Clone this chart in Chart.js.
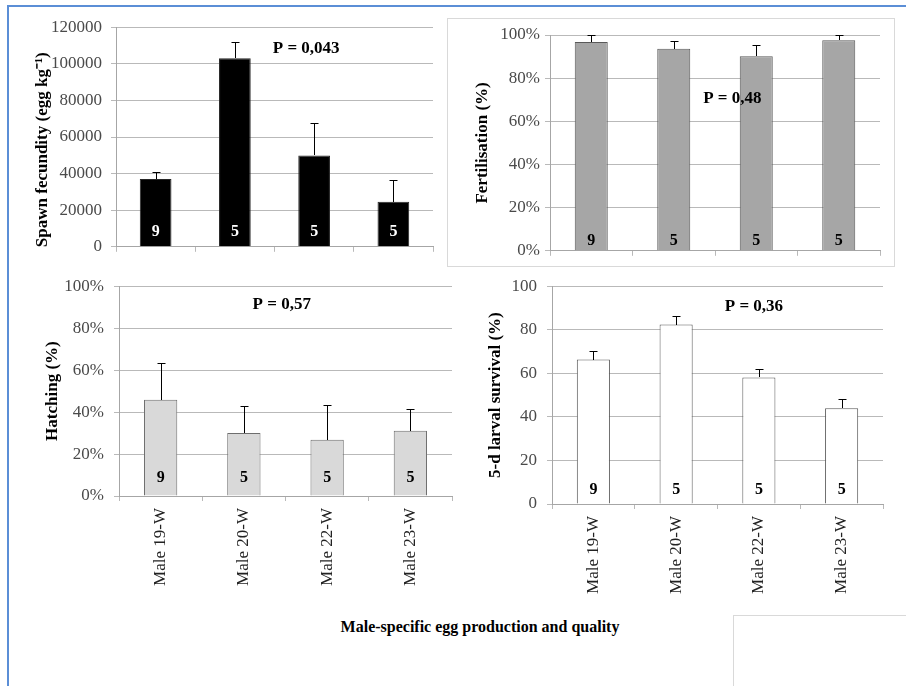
<!DOCTYPE html>
<html>
<head>
<meta charset="utf-8">
<script src="https://cdn.jsdelivr.net/npm/chart.js@4.4.1/dist/chart.umd.min.js"></script>
<style>
  body { margin: 0; background: #fff; width: 906px; height: 686px; overflow: hidden; position: relative; }
  canvas, .box { position: absolute; }
  .frame { position: absolute; left: 7px; top: 5px; right: 0; bottom: 0; border-left: 2px solid #5b8ed6; border-top: 2px solid #5b8ed6; }
  .box { border: 1px solid #d9d9d9; box-sizing: border-box; }
  #caption { position: absolute; left: 280px; width: 400px; top: 618px; text-align: center;
    font: bold 16px 'Liberation Serif', 'Times New Roman', serif; color: #000; }
</style>
</head>
<body>
<div class="frame"></div>
<div class="box" style="left:447px;top:18px;width:448px;height:249px"></div>
<div class="box" style="left:733px;top:615px;width:200px;height:100px"></div>
<canvas id="c1" width="437" height="258" style="left:10px;top:8px"></canvas>
<canvas id="c2" width="446" height="248" style="left:448px;top:18px"></canvas>
<canvas id="c3" width="446" height="334" style="left:10px;top:266px"></canvas>
<canvas id="c4" width="440" height="344" style="left:456px;top:266px"></canvas>
<div id="caption">Male-specific egg production and quality</div>
<script>
// categories and sample sizes
const males = ['Male 19-W', 'Male 20-W', 'Male 22-W', 'Male 23-W'];
const nFish = [9, 5, 5, 5];

// spawn fecundity (egg per kg) with SD
const fecundity = [37100, 103000, 49900, 24600];
const fecundityErr = [3700, 8700, 17700, 12100];

// fertilisation (%)
const fertilisation = [96.7, 93.6, 90.1, 97.6];
const fertilisationErr = [3.3, 3.4, 5.2, 2.4];

// hatching (%)
const hatching = [45.9, 30.0, 26.8, 31.1];
const hatchingErr = [17.7, 13.0, 16.4, 10.5];

// 5-d larval survival (%)
const survival = [66.3, 82.4, 58.1, 44.0];
const survivalErr = [3.8, 3.9, 3.9, 4.0];

const pValues = ['P = 0,043', 'P = 0,48', 'P = 0,57', 'P = 0,36'];

const serif = "'Liberation Serif', 'Times New Roman', serif";
const gridCol = '#b9b9b9';
const tickCol = '#4a4a4a';

// draws the upper error bar, the n inside each bar and the P value
const extras = {
    id: 'extras',
    afterDatasetsDraw(chart, args, opts) {
        const { ctx } = chart;
        const y = chart.scales.y;
        const x = chart.scales.x;
        const ds = chart.data.datasets[0];
        const meta = chart.getDatasetMeta(0);
        ctx.save();
        ctx.strokeStyle = '#000';
        ctx.lineWidth = 1;
        meta.data.forEach((bar, i) => {
            const bx = Math.round(bar.x) + 0.5;
            const top = Math.round(y.getPixelForValue(ds.data[i] + opts.errors[i])) + 0.5;
            ctx.beginPath();
            ctx.moveTo(bx, Math.round(bar.y));
            ctx.lineTo(bx, top);
            ctx.moveTo(bx - 4, top);
            ctx.lineTo(bx + 4, top);
            ctx.stroke();
        });
        ctx.fillStyle = opts.nColor;
        ctx.font = 'bold 16px ' + serif;
        ctx.textAlign = 'center';
        ctx.textBaseline = 'middle';
        meta.data.forEach((bar, i) => {
            ctx.fillText(String(nFish[i]), bar.x, y.bottom - opts.nOffset);
        });
        ctx.fillStyle = '#000';
        ctx.font = 'bold 17px ' + serif;
        const px = x.getPixelForValue(0) + (x.getPixelForValue(1) - x.getPixelForValue(0)) * opts.pAt[0];
        ctx.fillText(opts.pText, px, y.getPixelForValue(opts.pAt[1]));
        ctx.restore();
    }
};

function makeChart(id, cfg) {
    const ctx = document.getElementById(id).getContext('2d');
    return new Chart(ctx, {
        type: 'bar',
        data: {
            labels: males,
            datasets: [{
                data: cfg.values,
                backgroundColor: cfg.fill,
                borderColor: cfg.border,
                borderWidth: 1,
                barPercentage: 0.4,
                categoryPercentage: 1
            }]
        },
        options: {
            responsive: false,
            animation: false,
            layout: { padding: { left: 0, right: cfg.padRight, top: cfg.padTop, bottom: 0 } },
            plugins: {
                legend: { display: false },
                tooltip: { enabled: false },
                extras: {
                    errors: cfg.errors,
                    nColor: cfg.nColor,
                    nOffset: cfg.nOffset,
                    pText: cfg.pText,
                    pAt: cfg.pAt
                }
            },
            scales: {
                x: {
                    offset: true,
                    grid: { offset: true, drawOnChartArea: false, color: gridCol, tickLength: 5 },
                    border: { color: '#a6a6a6' },
                    ticks: {
                        display: cfg.showLabels,
                        maxRotation: 90,
                        minRotation: 90,
                        padding: 7,
                        color: '#222',
                        font: { family: serif, size: 17 }
                    },
                    afterFit: (s) => { s.height = cfg.xHeight; }
                },
                y: {
                    min: 0,
                    max: cfg.max,
                    grid: { color: gridCol, tickLength: 5 },
                    border: { color: '#a6a6a6' },
                    ticks: {
                        stepSize: cfg.step,
                        padding: cfg.tickPad,
                        color: tickCol,
                        font: { family: serif, size: 17 },
                        callback: cfg.fmt
                    },
                    title: {
                        display: true,
                        text: cfg.title,
                        color: '#000',
                        font: { family: serif, size: 17, weight: 'bold' },
                        padding: { top: cfg.titlePad, bottom: 0 }
                    },
                    afterFit: (s) => { s.width = cfg.yWidth; }
                }
            }
        },
        plugins: [extras]
    });
}

const pct = (v) => v + '%';
const plain = (v) => String(v);

makeChart('c1', {
    values: fecundity, errors: fecundityErr, fill: '#000', border: '#262626', nColor: '#fff', nOffset: 15,
    max: 120000, step: 20000, fmt: plain,
    // trailing spaces push the rotated title down, as in the original
    title: 'Spawn fecundity (egg kg\u207B\u00B9)\u00A0\u00A0\u00A0\u00A0\u00A0\u00A0',
    pText: pValues[0], pAt: [1.9, 108300],
    yWidth: 106, xHeight: 12, padRight: 14, padTop: 17, tickPad: 9, titlePad: 22, showLabels: false
});

makeChart('c2', {
    values: fertilisation, errors: fertilisationErr, fill: '#a6a6a6', border: '#595959', nColor: '#000', nOffset: 10,
    max: 100, step: 20, fmt: pct, title: 'Fertilisation (%)',
    pText: pValues[1], pAt: [1.71, 70.5],
    yWidth: 102, xHeight: 11, padRight: 14, padTop: 17, tickPad: 5, titlePad: 24, showLabels: false
});

makeChart('c3', {
    values: hatching, errors: hatchingErr, fill: '#d9d9d9', border: '#6e6e6e', nColor: '#000', nOffset: 18,
    max: 100, step: 20, fmt: pct, title: 'Hatching (%)',
    pText: pValues[2], pAt: [1.455, 91.3],
    yWidth: 109, xHeight: 104, padRight: 4, padTop: 14, tickPad: 10, titlePad: 32, showLabels: true
});

makeChart('c4', {
    values: survival, errors: survivalErr, fill: '#fff', border: '#595959', nColor: '#000', nOffset: 14,
    max: 100, step: 20, fmt: plain, title: '5-d larval survival (%)',
    pText: pValues[3], pAt: [1.94, 90.5],
    yWidth: 96, xHeight: 106, padRight: 13, padTop: 17, tickPad: 10, titlePad: 29, showLabels: true
});
</script>
</body>
</html>
